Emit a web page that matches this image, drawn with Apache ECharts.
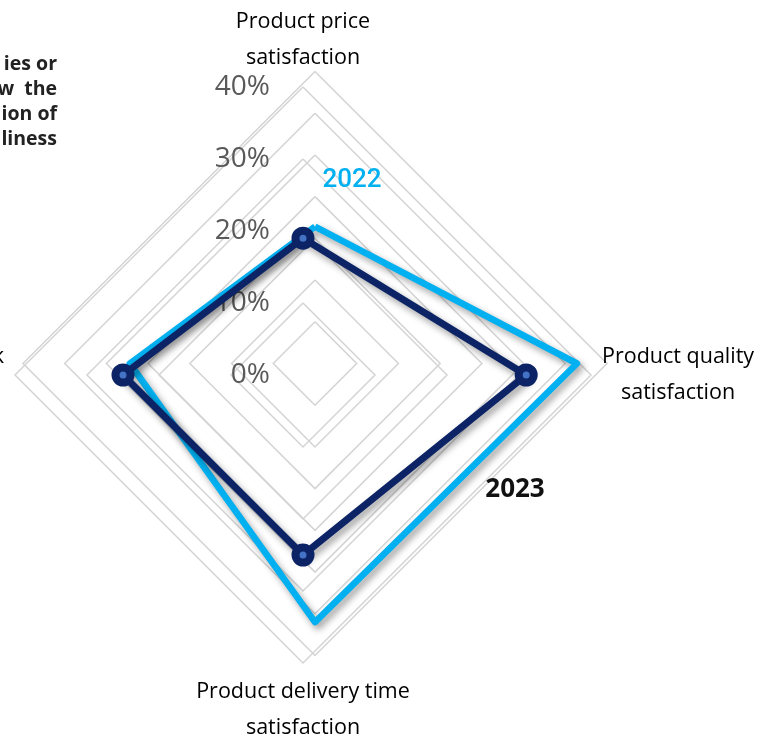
<!DOCTYPE html>
<html>
<head>
<meta charset="utf-8">
<script src="https://cdn.jsdelivr.net/npm/echarts@6/dist/echarts.min.js"></script>
<style>
  html, body { margin: 0; padding: 0; background: #ffffff; }
  #chart { width: 761px; height: 735px; }
</style>
</head>
<body>
<div id="chart"></div>
<script>
// Indicator names in ECharts radar order: top first, then counter-clockwise
const indicatorNames = [
  'Product price\nsatisfaction',
  'Customer service feedback\nsatisfaction',
  'Product delivery time\nsatisfaction',
  'Product quality\nsatisfaction'
];
const seriesNames = ['2022', '2023'];
// Shares in percent, same order as indicatorNames
const values2022 = [16.4, 22.2, 31.0, 31.4];
const values2023 = [19, 25, 25, 31];
// Scale ticks (percent) of the two survey grids
const ticks2022 = [0, 5, 10, 15, 20, 25, 30, 35];
const ticks2023 = [0, 10, 20, 30, 40];
// Side note text, right-aligned block at the top left
const noteLines = ['ies or', 'w  the', 'ion of', 'liness'];

const NAVY = '#0c2466';
const SKY = '#00b0f0';
const GRID = '#d4d4d4';
const FONT = '"Open Sans", "Noto Sans", sans-serif';

const shadow = {
  shadowColor: 'rgba(0,0,0,0.38)',
  shadowBlur: 7,
  shadowOffsetX: 3,
  shadowOffsetY: 4
};

const commonRadar = {
  shape: 'polygon',
  startAngle: 90,
  axisLine: { show: false },
  axisTick: { show: false },
  axisLabel: { show: false },
  splitArea: { show: false },
  splitLine: { lineStyle: { color: GRID, width: 1.5 } }
};

const chart = echarts.init(document.getElementById('chart'), null, { renderer: 'canvas' });

chart.setOption({
  backgroundColor: '#ffffff',
  animation: false,
  radar: [
    Object.assign({}, commonRadar, {
      center: [315, 363.5],
      radius: 292,
      splitNumber: ticks2022.length - 1,
      axisName: { show: false },
      indicator: indicatorNames.map(n => ({
        name: n, min: ticks2022[0], max: ticks2022[ticks2022.length - 1]
      }))
    }),
    Object.assign({}, commonRadar, {
      center: [303, 375],
      radius: 288,
      splitNumber: ticks2023.length - 1,
      axisNameGap: 11,
      axisName: {
        color: '#000000',
        fontFamily: FONT,
        fontSize: 21,
        formatter: v => v.split('\n').map(s => '{n|' + s + '}').join('\n'),
        rich: {
          n: { align: 'center', fontSize: 21.5, lineHeight: 36, color: '#000000', fontFamily: FONT }
        }
      },
      indicator: indicatorNames.map((n, i) => {
        const ind = { name: n, min: ticks2023[0], max: ticks2023[ticks2023.length - 1] };
        if (i === 0) {
          ind.axisLabel = {
            show: true,
            margin: 33,
            color: '#595959',
            fontFamily: FONT,
            fontSize: 28,
            formatter: '{value}%'
          };
        }
        return ind;
      })
    })
  ],
  series: [
    {
      type: 'radar',
      radarIndex: 0,
      name: seriesNames[0],
      symbol: 'none',
      z: 2,
      lineStyle: Object.assign({ color: SKY, width: 6.5 }, shadow),
      data: [{ name: seriesNames[0], value: values2022 }]
    },
    {
      type: 'radar',
      radarIndex: 1,
      name: seriesNames[1],
      symbol: 'circle',
      symbolSize: 15,
      z: 3,
      itemStyle: { color: '#4472c4', borderColor: NAVY, borderWidth: 8 },
      lineStyle: Object.assign({ color: NAVY, width: 7 }, shadow),
      data: [{ name: seriesNames[1], value: values2023 }]
    }
  ],
  graphic: [
    {
      type: 'text', x: 352, y: 180, z: 10,
      style: { text: seriesNames[0], fill: SKY, font: '500 26px Roboto, sans-serif', align: 'center', verticalAlign: 'middle' }
    },
    {
      type: 'text', x: 515, y: 490, z: 10,
      style: { text: seriesNames[1], fill: '#111111', font: 'bold 26px ' + FONT, align: 'center', verticalAlign: 'middle' }
    }
  ].concat(noteLines.map((t, i) => ({
    type: 'text', x: 57, y: 64 + i * 25, z: 10,
    style: { text: t, fill: '#222222', font: 'bold 19.5px ' + FONT, align: 'right', verticalAlign: 'middle' }
  })))
});
</script>
</body>
</html>
